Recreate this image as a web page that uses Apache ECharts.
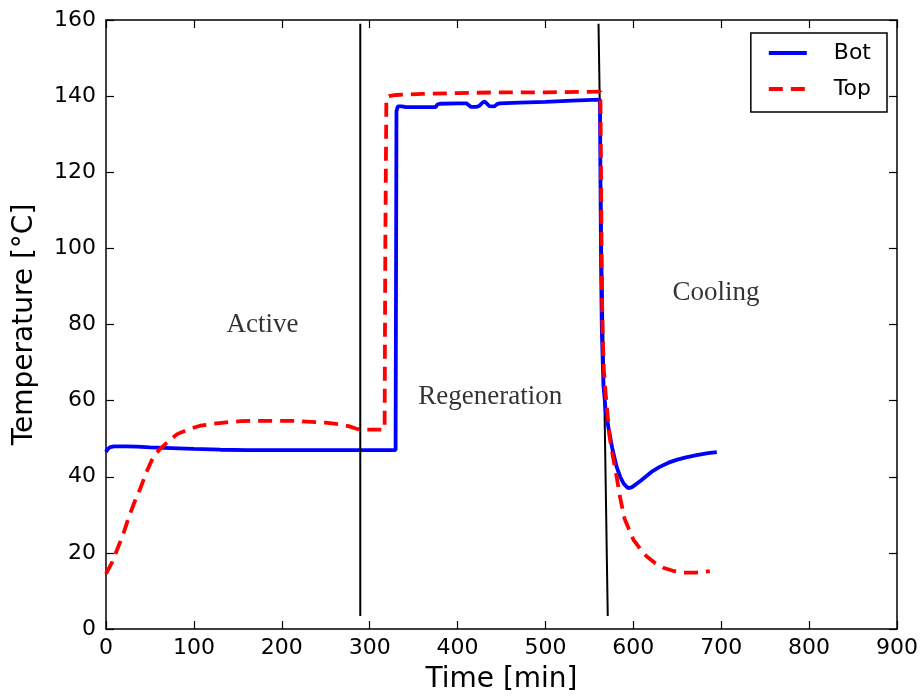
<!DOCTYPE html>
<html>
<head>
<meta charset="utf-8">
<script src="https://cdn.jsdelivr.net/npm/echarts@6/dist/echarts.min.js"></script>
<style>html,body{margin:0;padding:0;background:#fff}#c{width:923px;height:699px}</style>
</head>
<body>
<div id="c"></div>
<script>
// ---- data ----
const botTime = [0, 2, 5, 9, 15, 22, 35, 50, 75, 100, 130, 160, 200, 250, 300, 329.5, 330.5, 332, 334, 337, 341, 360, 375, 377, 380, 400, 410, 412, 415, 422, 425, 428, 431, 433, 436, 438, 442, 445, 448, 470, 500, 530, 562, 562.6, 563.3, 564.2, 566, 568.5, 572, 576, 581, 585, 589, 594, 598, 603, 608, 615, 622, 630, 640, 650, 660, 672, 685, 695];
const botTemp = [46.5, 47.3, 47.8, 48.0, 48.0, 48.0, 47.9, 47.7, 47.5, 47.3, 47.1, 47.0, 47.0, 47.0, 47.0, 47.0, 136.0, 137.3, 137.5, 137.3, 137.1, 137.1, 137.1, 137.8, 138.0, 138.1, 138.1, 137.6, 137.2, 137.2, 137.5, 138.2, 138.6, 138.3, 137.4, 137.2, 137.3, 137.9, 138.1, 138.3, 138.5, 138.8, 139.1, 118.0, 95.0, 78.0, 64.0, 57.5, 52.5, 47.5, 42.6, 40.0, 38.2, 37.0, 37.2, 38.0, 38.9, 40.2, 41.5, 42.6, 43.7, 44.5, 45.1, 45.7, 46.2, 46.5];
const topTime = [0, 7, 14, 20, 26, 33, 39, 46, 52, 58, 62, 69, 75, 81, 92, 107, 122, 137, 153, 170, 190, 210, 228, 250, 266, 276, 285, 295, 305, 317, 317.8, 319, 322, 330, 360, 400, 450, 500, 540, 562.5, 563.2, 564, 565, 566.5, 568.5, 573, 577, 581, 585, 590, 600, 608, 615, 625, 634, 645, 657, 670, 680, 687];
const topTemp = [14.5, 17.6, 21.6, 25.2, 29.4, 33.7, 36.9, 41.2, 44.3, 46.4, 47.4, 48.9, 50.1, 51.2, 52.3, 53.4, 53.9, 54.3, 54.6, 54.7, 54.7, 54.7, 54.5, 54.2, 53.8, 53.3, 52.6, 52.4, 52.4, 52.4, 100.0, 139.5, 140.0, 140.3, 140.6, 140.8, 141.0, 141.0, 141.1, 141.2, 120.0, 95.0, 78.0, 68.0, 61.8, 50.5, 45.0, 40.0, 34.5, 29.0, 23.5, 21.0, 19.1, 17.3, 16.1, 15.3, 14.8, 14.8, 15.0, 15.2];
// phase divider lines [time, temp] endpoints
const divider1 = [[289.3, 159.0], [289.3, 3.4]];
const divider2 = [[560.4, 159.0], [570.9, 3.4]];
// phase annotations
const phaseNames = ['Active', 'Regeneration', 'Cooling'];
const phaseX = [178.1, 437.2, 694.1];
const phaseY = [79.9, 61.0, 88.4];
const xTicks = {min: 0, max: 900, step: 100};
const yTicks = {min: 0, max: 160, step: 20};

const zip = (a, b) => a.map((v, i) => [v, b[i]]);
const sans = 'DejaVu Sans';
const axisCommon = {
  splitLine: {show: false},
  axisLine: {show: true, onZero: false, lineStyle: {color: '#000', width: 1.5}},
  axisTick: {show: true, inside: true, length: 8, lineStyle: {color: '#000', width: 1.2}}
};
const chart = echarts.init(document.getElementById('c'));
chart.setOption({
  animation: false,
  backgroundColor: '#fff',
  grid: {left: 106, right: 26, top: 20, bottom: 66},
  xAxis: [
    Object.assign({type: 'value', position: 'bottom', min: xTicks.min, max: xTicks.max, interval: xTicks.step,
      name: 'Time [min]', nameLocation: 'middle', nameGap: 37,
      nameTextStyle: {fontFamily: sans, fontSize: 28, color: '#000'},
      axisLabel: {fontFamily: sans, fontSize: 22, color: '#000', margin: 8}}, axisCommon),
    Object.assign({type: 'value', position: 'top', min: xTicks.min, max: xTicks.max, interval: xTicks.step,
      axisLabel: {show: false}}, axisCommon)
  ],
  yAxis: [
    Object.assign({type: 'value', position: 'left', min: yTicks.min, max: yTicks.max, interval: yTicks.step,
      name: 'Temperature [°C]', nameLocation: 'middle', nameGap: 67, nameRotate: 90,
      nameTextStyle: {fontFamily: sans, fontSize: 28, color: '#000'},
      axisLabel: {fontFamily: sans, fontSize: 22, color: '#000', margin: 10}}, axisCommon),
    Object.assign({type: 'value', position: 'right', min: yTicks.min, max: yTicks.max, interval: yTicks.step,
      axisLabel: {show: false}}, axisCommon)
  ],
  legend: {
    data: ['Bot', 'Top'], orient: 'vertical', right: 36, top: 33,
    backgroundColor: '#fff', borderColor: '#000', borderWidth: 1.5, borderRadius: 0,
    padding: [9, 16, 12, 16], itemWidth: 38, itemHeight: 22, itemGap: 14,
    itemStyle: {color: 'rgba(0,0,0,0)', borderColor: 'rgba(0,0,0,0)', borderWidth: 0},
    lineStyle: {width: 4},
    textStyle: {fontFamily: sans, fontSize: 22, color: '#000', lineHeight: 22, padding: [0, 0, 0, 22]}
  },
  series: [
    {name: 'Bot', type: 'line', data: zip(botTime, botTemp), symbol: 'none', showSymbol: false,
      lineStyle: {color: '#0000ff', width: 3.8}, itemStyle: {color: '#0000ff'}, z: 3},
    {name: 'Top', type: 'line', data: zip(topTime, topTemp), symbol: 'none', showSymbol: false,
      lineStyle: {color: '#ff0000', width: 3.8, type: [14, 8]}, itemStyle: {color: '#ff0000'}, z: 4},
    {name: 'div1', type: 'line', data: divider1, symbol: 'none', lineStyle: {color: '#000', width: 2}, z: 5, silent: true},
    {name: 'div2', type: 'line', data: divider2, symbol: 'none', lineStyle: {color: '#000', width: 2}, z: 2, silent: true},
    {name: 'phases', type: 'scatter', symbolSize: 1, itemStyle: {color: 'rgba(0,0,0,0)'}, silent: true,
      data: phaseNames.map((n, i) => ({name: n, value: [phaseX[i], phaseY[i]]})),
      label: {show: true, position: 'inside', formatter: p => p.name,
        fontFamily: 'Liberation Serif', fontSize: 27, color: '#000'}}
  ]
});
</script>
</body>
</html>
